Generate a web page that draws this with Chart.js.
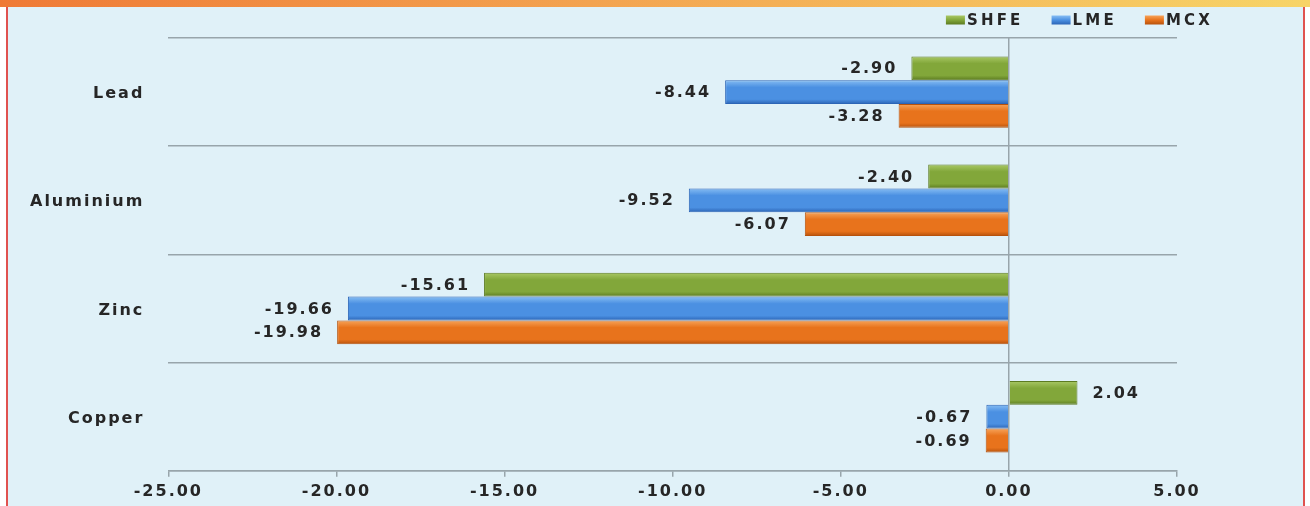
<!DOCTYPE html>
<html>
<head>
<meta charset="utf-8">
<script src="https://cdn.jsdelivr.net/npm/chart.js@4"></script>
<style>
  html, body { margin: 0; padding: 0; background: #ffffff; }
  #page { position: relative; width: 1310px; height: 506px; overflow: hidden; background: #ffffff; }
  #frame { position: absolute; left: 6px; top: 0; width: 1295px; height: 506px;
           background: #e0f1f8; border-left: 2px solid #e0524f; border-right: 2px solid #e0524f; }
  #strip { position: absolute; left: 0; top: 0; width: 1310px; height: 7px;
           background: linear-gradient(to right, #ef7a36 0%, #f3a350 45%, #f7d467 100%); z-index: 3; }
  #wrap { position: absolute; left: 0; top: 0; width: 1310px; height: 506px; z-index: 2; }
</style>
</head>
<body>
<div id="page">
  <div id="frame"></div>
  <div id="strip"></div>
  <div id="wrap"><canvas id="c"></canvas></div>
</div>
<script>
// ---- data ----
const categories = ['Lead', 'Aluminium', 'Zinc', 'Copper'];
const seriesNames = ['SHFE', 'LME', 'MCX'];
const shfeValues = [-2.90, -2.40, -15.61, 2.04];
const lmeValues  = [-8.44, -9.52, -19.66, -0.67];
const mcxValues  = [-3.28, -6.07, -19.98, -0.69];
const xTickMin = -25, xTickMax = 5, xTickStep = 5;

// ---- styles ----
const palettes = [
  { light: '#a9c865', mid: '#82a73a', dark: '#5c7b21' },
  { light: '#86bdf3', mid: '#4b90e2', dark: '#2c65b6' },
  { light: '#f7a45a', mid: '#e8731c', dark: '#b7520c' }
];
const TEXT = '#262626';
const GRID = '#98a5ab';
const SPACING = '2px';
const FONT = 'bold 16px "DejaVu Sans"';
const CAT_PCT = 0.66;

function barFill(c, pal) {
  const chart = c.chart;
  const ys = chart.scales && chart.scales.y;
  if (c.type !== 'data' || !ys || !ys.height) return pal.mid;
  const band = ys.height / categories.length;
  const thick = band * CAT_PCT / seriesNames.length;
  const center = ys.getPixelForValue(c.dataIndex);
  const top = center - band * CAT_PCT / 2 + c.datasetIndex * thick;
  const g = chart.ctx.createLinearGradient(0, top, 0, top + thick);
  g.addColorStop(0, pal.light);
  g.addColorStop(0.3, pal.mid);
  g.addColorStop(0.8, pal.mid);
  g.addColorStop(1, pal.dark);
  return g;
}

const spacingPlugin = {
  id: 'spacing',
  beforeLayout(ch) { ch.ctx.letterSpacing = SPACING; },
  beforeDraw(ch) { ch.ctx.letterSpacing = SPACING; }
};

const valueLabels = {
  id: 'valueLabels',
  afterDatasetsDraw(ch) {
    const ctx = ch.ctx;
    ctx.save();
    ctx.letterSpacing = SPACING;
    ctx.font = FONT;
    ctx.fillStyle = TEXT;
    ctx.textBaseline = 'middle';
    ch.data.datasets.forEach((ds, i) => {
      const meta = ch.getDatasetMeta(i);
      meta.data.forEach((bar, j) => {
        const v = ds.data[j];
        if (v < 0) { ctx.textAlign = 'right'; ctx.fillText(v.toFixed(2), bar.x - 14, bar.y + 1); }
        else { ctx.textAlign = 'left'; ctx.fillText(v.toFixed(2), bar.x + 15, bar.y + 1); }
      });
    });
    ctx.restore();
  }
};

// legend drawn at the top right, from the dataset names and colours
const topLegend = {
  id: 'topLegend',
  afterDraw(ch) {
    const ctx = ch.ctx;
    ctx.save();
    ctx.letterSpacing = '3.2px';
    ctx.font = 'bold 15px "DejaVu Sans"';
    ctx.textBaseline = 'middle';
    ctx.textAlign = 'left';
    const cy = 20, boxW = 19, boxH = 9, boxGap = 2, itemGap = 28;
    let xEnd = 1213;
    const items = ch.data.datasets.map((ds, i) => ({ text: ds.label, pal: palettes[i] }));
    const pos = [];
    for (let i = items.length - 1; i >= 0; i--) {
      const w = ctx.measureText(items[i].text).width;
      const tx = xEnd - w;
      const bx = tx - boxGap - boxW;
      pos[i] = { tx, bx };
      xEnd = bx - itemGap;
    }
    items.forEach((it, i) => {
      const p = pos[i];
      const g = ctx.createLinearGradient(0, cy - boxH / 2, 0, cy + boxH / 2);
      g.addColorStop(0, it.pal.light);
      g.addColorStop(0.5, it.pal.mid);
      g.addColorStop(1, it.pal.dark);
      ctx.fillStyle = g;
      ctx.fillRect(p.bx, cy - boxH / 2, boxW, boxH);
      ctx.fillStyle = TEXT;
      ctx.fillText(it.text, p.tx, cy + 1);
    });
    ctx.restore();
  }
};

const allValues = [shfeValues, lmeValues, mcxValues];
const datasets = seriesNames.map((name, i) => ({
  label: name,
  data: allValues[i],
  backgroundColor: (c) => barFill(c, palettes[i]),
  borderColor: palettes[i].dark,
  borderWidth: 1,
  categoryPercentage: CAT_PCT,
  barPercentage: 1.0
}));

new Chart(document.getElementById('c'), {
  type: 'bar',
  data: { labels: categories, datasets },
  plugins: [spacingPlugin, valueLabels, topLegend],
  options: {
    indexAxis: 'y',
    responsive: true,
    maintainAspectRatio: false,
    animation: false,
    layout: { padding: { left: 6, right: 133, top: 38, bottom: 0 } },
    plugins: {
      tooltip: { enabled: false },
      legend: { display: false }
    },
    scales: {
      x: {
        min: xTickMin,
        max: xTickMax,
        ticks: {
          stepSize: xTickStep,
          color: TEXT,
          padding: 5,
          font: { family: '"DejaVu Sans"', size: 16, weight: 'bold' },
          callback: (v) => Number(v).toFixed(2)
        },
        grid: {
          color: (c) => (c.tick && c.tick.value === 0) ? GRID : 'rgba(0,0,0,0)',
          tickColor: GRID,
          tickLength: 6,
          lineWidth: 1.5
        },
        border: { display: true, color: GRID, width: 1.5 }
      },
      y: {
        ticks: {
          color: TEXT,
          padding: 24,
          labelOffset: 2,
          font: { family: '"DejaVu Sans"', size: 16, weight: 'bold' }
        },
        grid: { color: GRID, drawTicks: false, lineWidth: 1.5 },
        border: { display: false }
      }
    }
  }
});
</script>
</body>
</html>
